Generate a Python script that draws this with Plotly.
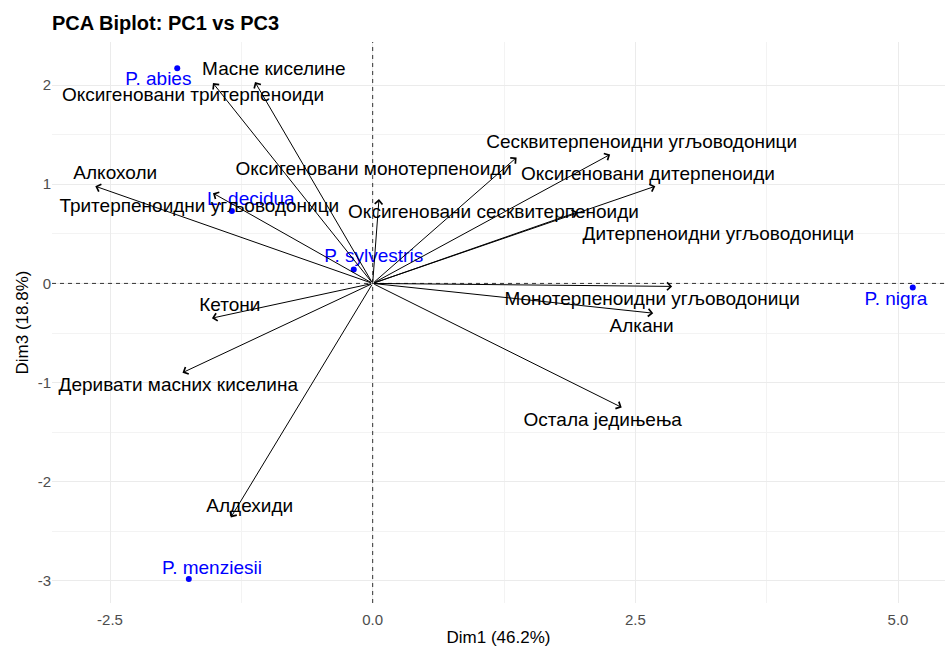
import plotly.graph_objects as go

# Variable loadings (arrow tips) and their label positions
var_names = [
    "Оксигеновани тритерпеноиди", "Масне киселине", "Алкохоли",
    "Тритерпеноидни угљоводоници", "Оксигеновани монотерпеноиди",
    "Оксигеновани сесквитерпеноиди", "Сесквитерпеноидни угљоводоници",
    "Оксигеновани дитерпеноиди", "Дитерпеноидни угљоводоници",
    "Монотерпеноидни угљоводоници", "Алкани", "Остала једињења",
    "Кетони", "Деривати масних киселина", "Алдехиди",
]
var_x = [-1.52, -1.12, -2.64, -1.52, 0.06, 1.37, 2.26, 2.69, 1.95, 2.85, 2.67, 2.37, -1.53, -1.81, -1.35]
var_y = [2.02, 2.03, 0.98, 0.91, 0.85, 1.27, 1.30, 0.98, 0.72, -0.03, -0.30, -1.25, -0.35, -0.90, -2.36]
var_lab_x = [-1.71, -0.94, -2.45, -1.65, 0.01, 1.15, 2.56, 2.62, 3.29, 2.66, 2.56, 2.19, -1.36, -1.85, -1.17]
var_lab_y = [1.89, 2.15, 1.10, 0.77, 1.14, 0.71, 1.41, 1.09, 0.49, -0.17, -0.44, -1.39, -0.23, -1.04, -2.26]

# Individuals (species scores) and label positions
ind_names = ["P. abies", "L. decidua", "P. sylvestris", "P. nigra", "P. menziesii"]
ind_x = [-1.86, -1.34, -0.18, 5.14, -1.75]
ind_y = [2.17, 0.73, 0.14, -0.04, -2.98]
ind_lab_x = [-2.04, -1.16, 0.01, 4.98, -1.53]
ind_lab_y = [2.05, 0.84, 0.26, -0.17, -2.88]

x_ticks = [-2.5, 0.0, 2.5, 5.0]
x_tick_text = ["-2.5", "0.0", "2.5", "5.0"]
y_ticks = [-3, -2, -1, 0, 1, 2]
y_tick_text = ["-3", "-2", "-1", "0", "1", "2"]

FONT = "Liberation Sans, Arial, sans-serif"

fig = go.Figure()

# Individuals points
fig.add_trace(go.Scatter(
    x=ind_x, y=ind_y, mode="markers",
    marker=dict(color="#0000FF", size=6),
    hoverinfo="skip", showlegend=False,
))
# Individuals labels
fig.add_trace(go.Scatter(
    x=ind_lab_x, y=ind_lab_y, mode="text", text=ind_names,
    textposition="middle center",
    textfont=dict(color="#0000FF", size=19, family=FONT),
    hoverinfo="skip", showlegend=False,
))
# Variable labels
fig.add_trace(go.Scatter(
    x=var_lab_x, y=var_lab_y, mode="text", text=var_names,
    textposition="middle center",
    textfont=dict(color="black", size=19, family=FONT),
    hoverinfo="skip", showlegend=False,
))

# Arrows from origin to loadings
for vx, vy in zip(var_x, var_y):
    fig.add_annotation(
        x=vx, y=vy, ax=0, ay=0, xref="x", yref="y", axref="x", ayref="y",
        text="", showarrow=True, arrowhead=4, arrowsize=1.5, arrowwidth=1,
        arrowcolor="black", standoff=0, startstandoff=0,
    )

# Reference dashed lines
fig.add_hline(y=0, line=dict(color="#333333", width=1, dash="4px,4px"), layer="above")
fig.add_vline(x=0, line=dict(color="#333333", width=1, dash="4px,4px"), layer="above")

fig.update_layout(
    width=947, height=647,
    margin=dict(l=52, r=2, t=42, b=44),
    paper_bgcolor="white", plot_bgcolor="white",
    font=dict(family=FONT, color="black"),
    title=dict(text="<b>PCA Biplot: PC1 vs PC3</b>", x=0.0549, xref="container",
               y=0.9645, yref="container", xanchor="left", yanchor="middle",
               font=dict(size=20, family=FONT, color="black")),
    xaxis=dict(
        range=[-3.052, 5.447], tickvals=x_ticks, ticktext=x_tick_text,
        showgrid=True, gridcolor="#EBEBEB", gridwidth=1, zeroline=False,
        showline=False, ticks="", tickfont=dict(size=15, color="#4D4D4D"),
        ticklabelstandoff=6,
        minor=dict(showgrid=True, gridcolor="#F3F3F3", gridwidth=1, dtick=1.25, tick0=0),
        title=dict(text="Dim1 (46.2%)", font=dict(size=17, color="black"), standoff=7),
        automargin=False,
    ),
    yaxis=dict(
        range=[-3.222, 2.434], tickvals=y_ticks, ticktext=y_tick_text,
        showgrid=True, gridcolor="#EBEBEB", gridwidth=1, zeroline=False,
        showline=False, ticks="", tickfont=dict(size=15, color="#4D4D4D"),
        minor=dict(showgrid=True, gridcolor="#F3F3F3", gridwidth=1, dtick=0.5, tick0=0),
        title=dict(text="Dim3 (18.8%)", font=dict(size=17, color="black"), standoff=4),
        automargin=False,
    ),
)

fig.write_html("out.html", config={"displayModeBar": False},
               post_script="document.body.style.margin='0';")
